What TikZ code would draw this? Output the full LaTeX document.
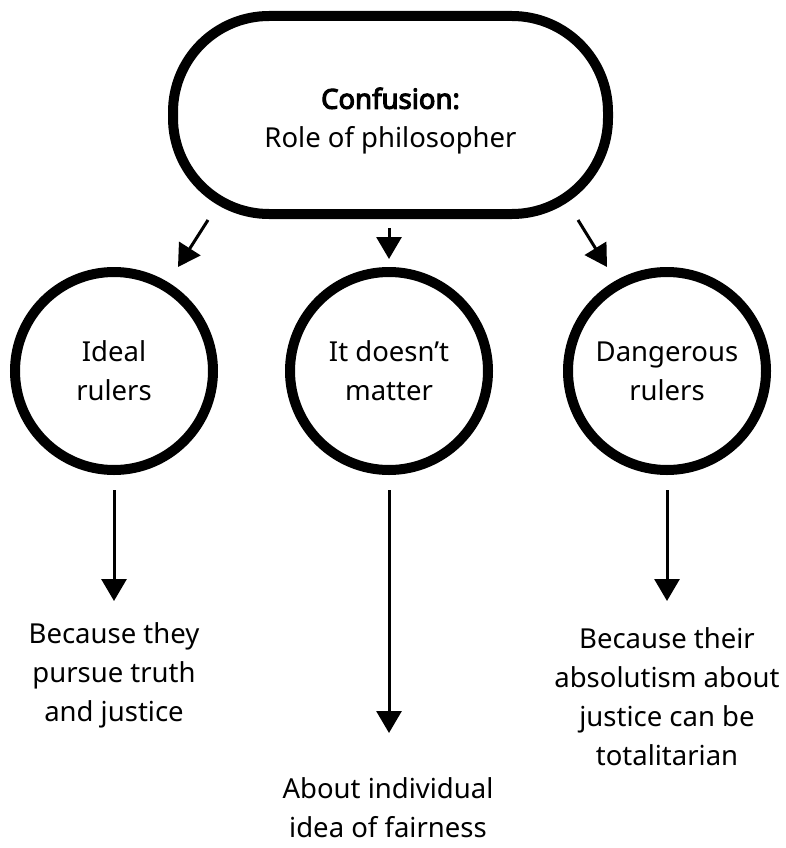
\documentclass[tikz,border=0pt]{standalone}
\usepackage{fontspec}
\setmainfont{Noto Sans}[AutoFakeBold=4]
\usetikzlibrary{arrows.meta}
\begin{document}
\begin{tikzpicture}[x=1pt,y=-1pt,
  txt/.style={font=\fontsize{27.5}{39}\selectfont, align=center, inner sep=0pt},
  ring/.style={circle, draw, line width=10pt, minimum size=198pt, inner sep=0pt, txt},
  pill/.style={rectangle, draw, line width=10pt, rounded corners=96pt, minimum width=435pt, minimum height=198pt, txt},
  arr/.style={line width=3pt, -{Triangle[width=25pt,length=22pt]}}]
\useasboundingbox (0,0) rectangle (786,848);
\node[pill] (top) at (390.5,115) {};
\node[txt] (toptext) at (390.5,121) {\textbf{Confusion:}\\Role of philosopher};
\node[ring] (c1) at (114,371) {Ideal\\rulers};
\node[ring] (c2) at (389,371) {It doesn’t\\matter};
\node[ring] (c3) at (667,371) {Dangerous\\rulers};
\node[txt] (b1) at (114,675) {Because they\\pursue truth\\and justice};
\node[txt] (b2) at (388,808) {About individual\\idea of fairness};
\node[txt] (b3) at (667,697) {Because their\\absolutism about\\justice can be\\totalitarian};
\coordinate (s1) at (208,220); \coordinate (e1) at (178,267);
\coordinate (s2) at (389,228); \coordinate (e2) at (389,259);
\coordinate (s3) at (578,220); \coordinate (e3) at (607,267);
\draw[arr] (s1) -- (e1);
\draw[arr] (s2) -- (e2);
\draw[arr] (s3) -- (e3);
\draw[arr] ([yshift=-15pt]c1.south) -- (114,601);
\draw[arr] ([yshift=-15pt]c2.south) -- (389,733);
\draw[arr] ([yshift=-15pt]c3.south) -- (667,601);
\end{tikzpicture}
\end{document}
